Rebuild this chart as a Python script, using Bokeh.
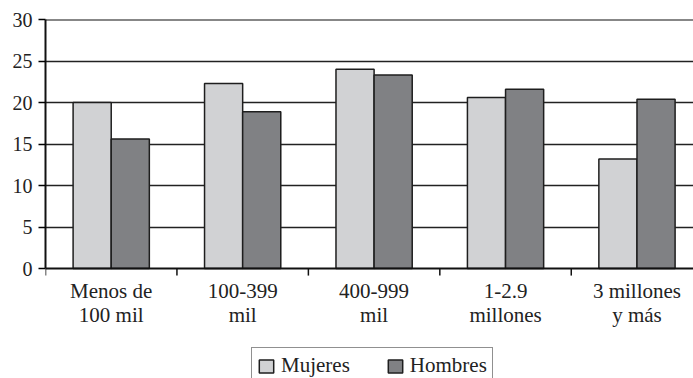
from bokeh.plotting import figure
from bokeh.models import (ColumnDataSource, FixedTicker, Range1d, Span, Legend, LegendItem)
from bokeh.core.properties import value
from bokeh.transform import dodge
from bokeh.embed import file_html
from bokeh.resources import INLINE

# ---- data ----
categories = ["Menos de\n100 mil", "100-399\nmil", "400-999\nmil", "1-2.9\nmillones", "3 millones\ny más"]
mujeres = [20.0, 22.3, 24.0, 20.6, 13.2]
hombres = [15.6, 18.9, 23.3, 21.6, 20.4]
y_ticks = [0, 5, 10, 15, 20, 25, 30]

FONT = "Liberation Serif, Times New Roman, serif"
LIGHT = "#d1d2d4"
DARK = "#808184"
INK = "#1e1e1e"

centers = [i + 0.5 for i in range(len(categories))]
bounds = list(range(len(categories) + 1))
src = ColumnDataSource(dict(x=centers, m=mujeres, h=hombres, lab=categories,
                            zero=[0] * len(categories)))
tick_src = ColumnDataSource(dict(x=bounds, y0=[0] * len(bounds)))

# frame runs to the bottom of the canvas; the value axis spans 0..30 only
p = figure(width=693, height=378, output_backend="svg", toolbar_location=None,
           x_range=Range1d(0, 4.93), y_range=Range1d(-13.25, 30),
           x_axis_location=None,
           min_border_left=45, min_border_right=0, min_border_top=19, min_border_bottom=0)
p.outline_line_color = None
p.background_fill_color = "white"
p.border_fill_color = "white"

bw = 0.29
r_m = p.vbar(x=dodge("x", -bw / 2, range=p.x_range), top="m", width=bw, source=src,
             fill_color=LIGHT, line_color=INK, line_width=1.5)
r_h = p.vbar(x=dodge("x", bw / 2, range=p.x_range), top="h", width=bw, source=src,
             fill_color=DARK, line_color=INK, line_width=1.5)

# grid
p.xgrid.visible = False
p.ygrid.ticker = FixedTicker(ticks=[5, 10, 15, 20, 25])
p.ygrid.grid_line_color = "#222222"
p.ygrid.grid_line_width = 1.3
p.add_layout(Span(location=30, dimension="width", line_color="#111111", line_width=2.2))

# category axis: baseline, boundary ticks, two-line labels
p.add_layout(Span(location=0, dimension="width", line_color="#111111", line_width=2))
p.segment(x0="x", y0="y0", x1="x", y1=-0.85, source=tick_src, line_color="#111111", line_width=1.5)
p.text(x="x", y="zero", text="lab", source=src, text_align="center", text_baseline="top",
       y_offset=10, text_font=value(FONT), text_font_size="21px", text_color="#222222",
       text_line_height=1.0)

# y axis
ya = p.yaxis[0]
ya.ticker = FixedTicker(ticks=y_ticks)
ya.bounds = (0, 30)
ya.axis_line_color = "#111111"
ya.axis_line_width = 2
ya.major_tick_out = 7
ya.major_tick_in = 0
ya.major_tick_line_width = 1.5
ya.minor_tick_line_color = None
ya.major_label_text_font = FONT
ya.major_label_text_font_size = "20px"
ya.major_label_text_color = "#222222"
ya.major_label_standoff = 6

legend = Legend(items=[LegendItem(label="Mujeres", renderers=[r_m]),
                       LegendItem(label="Hombres", renderers=[r_h])],
                location=(206, -6), orientation="horizontal",
                label_text_font=FONT, label_text_font_size="21px", label_text_color="#222222",
                glyph_width=18, glyph_height=16, label_standoff=6, spacing=36,
                padding=5, margin=0, border_line_color="#222222", border_line_width=1.5,
                label_height=20, background_fill_alpha=1)
p.add_layout(legend, "center")

open("out.html", "w").write(file_html(p, INLINE))
